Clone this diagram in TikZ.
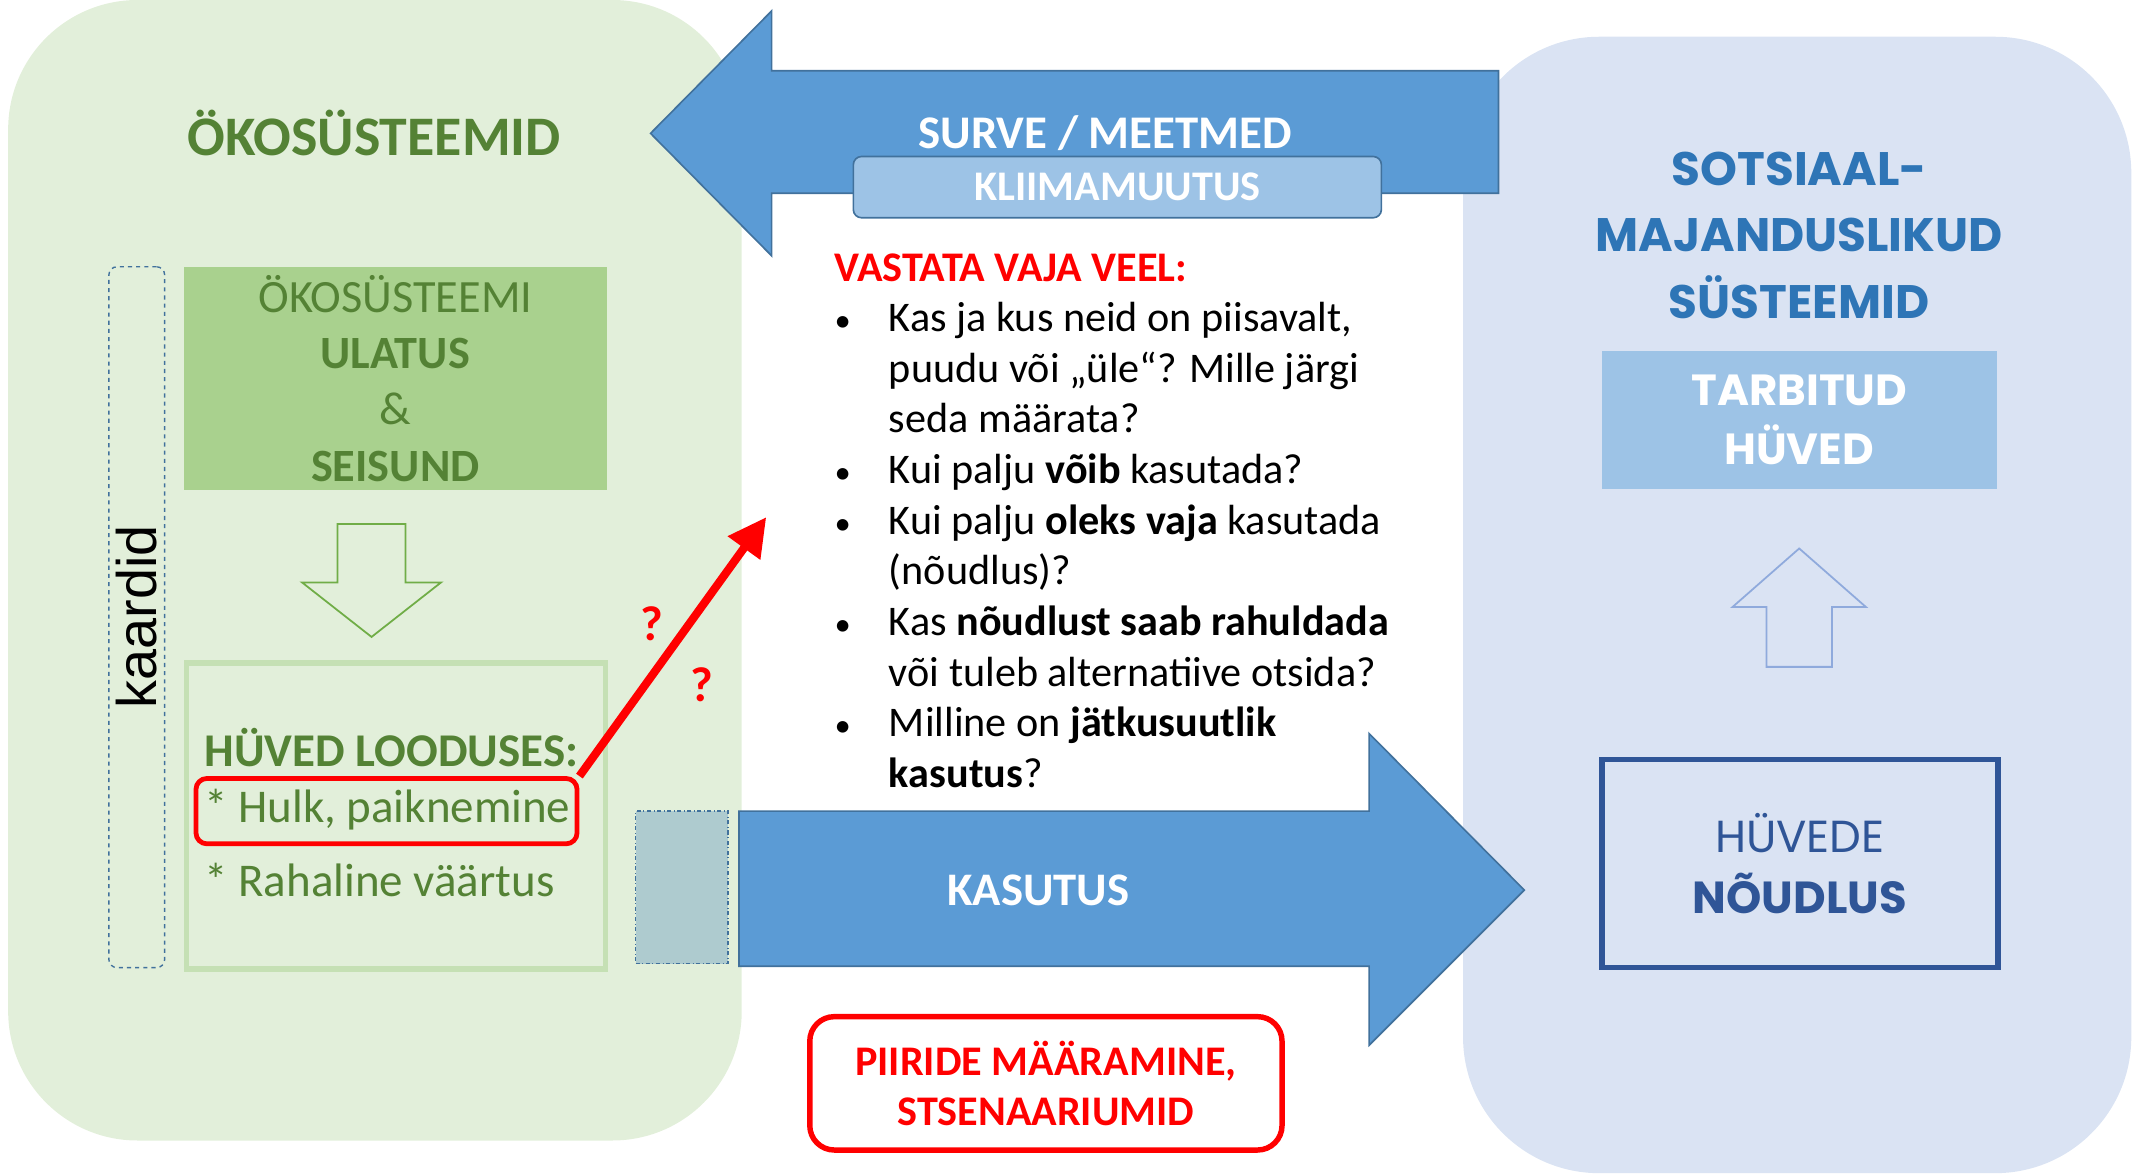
\documentclass[tikz,border=0pt]{standalone}
\usepackage{fontspec}
\setmainfont{Carlito}
\newfontfamily\widefont{Poppins}
\newfontfamily\arialfont{Liberation Sans}
\usetikzlibrary{arrows.meta}
\definecolor{greenbg}{HTML}{E2EFDA}
\definecolor{bluebg}{HTML}{DAE3F3}
\definecolor{arrowblue}{HTML}{5B9BD5}
\definecolor{edgeblue}{HTML}{41719C}
\definecolor{lgreen}{HTML}{A9D18E}
\definecolor{textgreen}{HTML}{548235}
\definecolor{lgborder}{HTML}{C5E0B4}
\definecolor{outlinegreen}{HTML}{70AD47}
\definecolor{outlineblue}{HTML}{8FAADC}
\definecolor{kliima}{HTML}{9DC3E6}
\definecolor{titleblue}{HTML}{2E75B6}
\definecolor{darkblue}{HTML}{2F5597}
\definecolor{dashfill}{HTML}{AECBCF}
\newcommand\fsz[2]{\fontsize{#1pt}{#2pt}\selectfont}
\tikzset{
  panel/.style={rounded corners=95, inner sep=0},
  bigarrow/.style={fill=arrowblue, draw=edgeblue, line width=1.2},
  hollowarrow/.style={line width=1.3, line join=miter},
  boxnode/.style={inner sep=0, align=center}
}
\begin{document}
\begin{tikzpicture}[x=1pt,y=-1pt]
\useasboundingbox (0,0) rectangle (1568,864);
% panels
\node[panel, fill=greenbg, minimum width=539, minimum height=838] (eco) at (275.5,419) {};
\node[panel, rounded corners=100, fill=bluebg, minimum width=491, minimum height=835] (soc) at (1320.5,444.5) {};
% top arrow
\path[bigarrow] (478,98) -- (567,8) -- (567,52) -- (1101,52) -- (1101,142) -- (567,142) -- (567,188) -- cycle;
\node[text=white, font=\fsz{34.4}{40}\bfseries] (pressure) at (812,98) {SURVE / MEETMED};
\node[boxnode, fill=kliima, draw=edgeblue, line width=1.2, rounded corners=6, minimum width=388, minimum height=45, text=white, font=\fsz{31}{35}\bfseries] (climate) at (821,137.5) {KLIIMAMUUTUS};
% left panel content
\node[text=textgreen, font=\fsz{41}{48}\bfseries] (ecotitle) at (275,98) {ÖKOSÜSTEEMID};
\node[boxnode, fill=lgreen, minimum width=311, minimum height=164, text=textgreen, font=\fsz{34}{41.3}] (extent) at (290.5,278) {ÖKOSÜSTEEMI\\\textbf{ULATUS}\\\&\\\textbf{SEISUND}};
\node[draw=edgeblue, dashed, line width=1, rounded corners=6, minimum width=41, minimum height=515, inner sep=0] (maps) at (100.5,453.5) {};
\node[rotate=90, inner sep=0, font=\arialfont\fsz{41}{48}] (maptext) at (100,453) {kaardid};
\path[hollowarrow, draw=outlinegreen] (248,385) -- (298,385) -- (298,428) -- (324,428) -- (273,468) -- (222,428) -- (248,428) -- cycle;
\node[draw=lgborder, line width=4, minimum width=308, minimum height=225, inner sep=0] (goods) at (291,599.5) {};
\node[anchor=base west, inner sep=0, text=textgreen, font=\fsz{34.5}{40}\bfseries] (goodstitle) at (150,563) {HÜVED LOODUSES:};
\node[anchor=base west, inner sep=0, text=textgreen, font=\fsz{34.5}{40}] (amount) at (150,604) {* Hulk, paiknemine};
\node[anchor=base west, inner sep=0, text=textgreen, font=\fsz{34.5}{40}] (value) at (150,659) {* Rahaline väärtus};
\node[draw=red, line width=3.5, rounded corners=8, minimum width=280, minimum height=48, inner sep=0] (hulkbox) at (284,596) {};
\coordinate (qtip) at (563,380);
\draw[red, line width=6, -{Triangle[length=28pt,width=28pt]}] (hulkbox.north east) -- (qtip);
\node[text=red, font=\fsz{36}{40}\bfseries] (q1) at (479,458) {?};
\node[text=red, font=\fsz{36}{40}\bfseries] (q2) at (516,503) {?};
\node[fill=dashfill, draw=edgeblue, dash dot, line width=1, minimum width=68, minimum height=112, inner sep=0] (gap) at (501,652) {};
% bottom arrow
\path[bigarrow] (543,596) -- (1006,596) -- (1006,539) -- (1120,654) -- (1006,768) -- (1006,710) -- (543,710) -- cycle;
\node[text=white, font=\fsz{34.3}{40}\bfseries] (use) at (763,654) {KASUTUS};
% questions
\node[anchor=north west, inner sep=0, align=left, font=\fsz{31}{37.2}] (questions) at (613,186) {%
\textcolor{red}{\bfseries VASTATA VAJA VEEL:}\\
\makebox[40pt][l]{\fsz{24}{37.2}•}Kas ja kus neid on piisavalt,\\
\hspace*{40pt}puudu või „üle“? Mille järgi\\
\hspace*{40pt}seda määrata?\\
\makebox[40pt][l]{\fsz{24}{37.2}•}Kui palju \textbf{võib} kasutada?\\
\makebox[40pt][l]{\fsz{24}{37.2}•}Kui palju \textbf{oleks vaja} kasutada\\
\hspace*{40pt}(nõudlus)?\\
\makebox[40pt][l]{\fsz{24}{37.2}•}Kas \textbf{nõudlust saab rahuldada}\\
\hspace*{40pt}või tuleb alternatiive otsida?\\
\makebox[40pt][l]{\fsz{24}{37.2}•}Milline on \textbf{jätkusuutlik}\\
\hspace*{40pt}\textbf{kasutus}?};
\node[boxnode, draw=red, line width=4, rounded corners=18, minimum width=347, minimum height=98, text=red, font=\fsz{31}{37}\bfseries] (limits) at (768.5,796) {PIIRIDE MÄÄRAMINE,\\STSENAARIUMID};
% right panel content
\node[boxnode, text=titleblue, font=\widefont\bfseries\fsz{34.5}{49}] (soctitle) at (1322,173) {SOTSIAAL-\\MAJANDUSLIKUD\\SÜSTEEMID};
\node[boxnode, fill=kliima, minimum width=290, minimum height=101, text=white, font=\widefont\bfseries\fsz{32}{44}] (consumed) at (1322,308.5) {TARBITUD\\HÜVED};
\path[hollowarrow, draw=outlineblue] (1322,403) -- (1371,446) -- (1346,446) -- (1346,490) -- (1298,490) -- (1298,446) -- (1273,446) -- cycle;
\node[boxnode, draw=darkblue, line width=4, minimum width=291, minimum height=153, text=darkblue, font=\widefont\fsz{33}{45}] (demand) at (1322.5,634.5) {HÜVEDE\\\textbf{NÕUDLUS}};
\end{tikzpicture}
\end{document}
